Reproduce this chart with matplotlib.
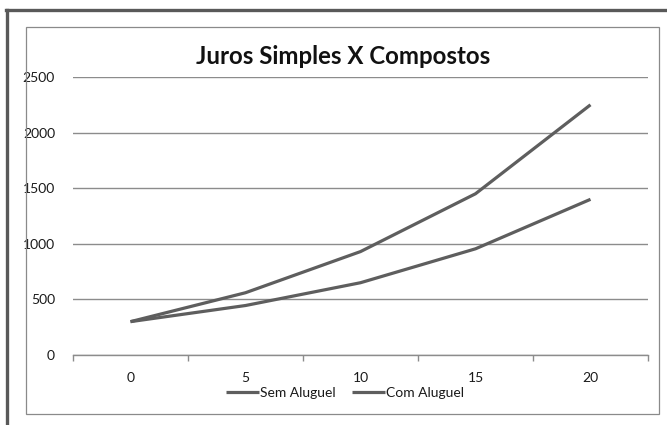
import matplotlib
matplotlib.use("Agg")
import matplotlib.pyplot as plt
from matplotlib.lines import Line2D
from matplotlib.patches import Rectangle

categories = ["0", "5", "10", "15", "20"]
sem_aluguel = [300, 560, 930, 1450, 2250]
com_aluguel = [300, 445, 650, 955, 1400]
y_ticks = [0, 500, 1000, 1500, 2000, 2500]
title = "Juros Simples X Compostos"

W, H = 667, 425
plt.rcParams['font.family'] = ['Lato', 'DejaVu Sans']
fig = plt.figure(figsize=(W / 100, H / 100), dpi=100)

def fx(px):
    return px / W

def fy(py):
    return 1 - py / H

# outer frame (top and left dark lines)
fig.add_artist(Line2D([fx(7), fx(7)], [fy(10), fy(425)], color="#595959", lw=2.4,
                      transform=fig.transFigure))
fig.add_artist(Line2D([fx(6), 1.0], [fy(10), fy(10)], color="#595959", lw=2.4,
                      transform=fig.transFigure))
# inner chart box
fig.add_artist(Rectangle((fx(26), fy(414)), fx(659) - fx(26), fy(27) - fy(414),
                         fill=False, edgecolor="#8a8a8a", lw=0.9,
                         transform=fig.transFigure))

ax = fig.add_axes([fx(73), fy(355), fx(648) - fx(73), fy(77) - fy(355)])
x = list(range(len(categories)))
line_color = "#5e5e5e"
ax.plot(x, sem_aluguel, color=line_color, lw=2.3, label="Sem Aluguel", solid_capstyle="butt")
ax.plot(x, com_aluguel, color=line_color, lw=2.3, label="Com Aluguel", solid_capstyle="butt")

ax.set_xlim(-0.5, len(categories) - 0.5)
ax.set_ylim(0, 2500)
ax.set_yticks(y_ticks)
ax.set_yticklabels([str(v) for v in y_ticks])
ax.yaxis.grid(True, color="#8c8c8c", lw=1.0)
ax.set_axisbelow(True)
ax.tick_params(axis='y', length=0, pad=13, labelsize=10, colors="#1a1a1a")

ax.set_xticks(x)
ax.set_xticklabels(categories)
ax.set_xticks([i - 0.5 for i in range(len(categories) + 1)], minor=True)
ax.tick_params(axis='x', which='major', length=0, pad=12, labelsize=10, colors="#1a1a1a")
ax.tick_params(axis='x', which='minor', length=4, width=1.0, color="#8c8c8c", direction='out')

for s in ['top', 'right', 'left']:
    ax.spines[s].set_visible(False)
ax.spines['bottom'].set_color("#8c8c8c")
ax.spines['bottom'].set_linewidth(1.0)

fig.text(fx(343), fy(56), title, ha='center', va='center', fontsize=17.3,
         fontweight='bold', color="#111111")

leg = fig.legend(loc='center', bbox_to_anchor=(fx(345), fy(393)), ncol=2, frameon=False,
                 fontsize=10, handlelength=2.4, handletextpad=0.05, columnspacing=1.2,
                 labelcolor="#1a1a1a")

fig.savefig("out.png", dpi=100)
